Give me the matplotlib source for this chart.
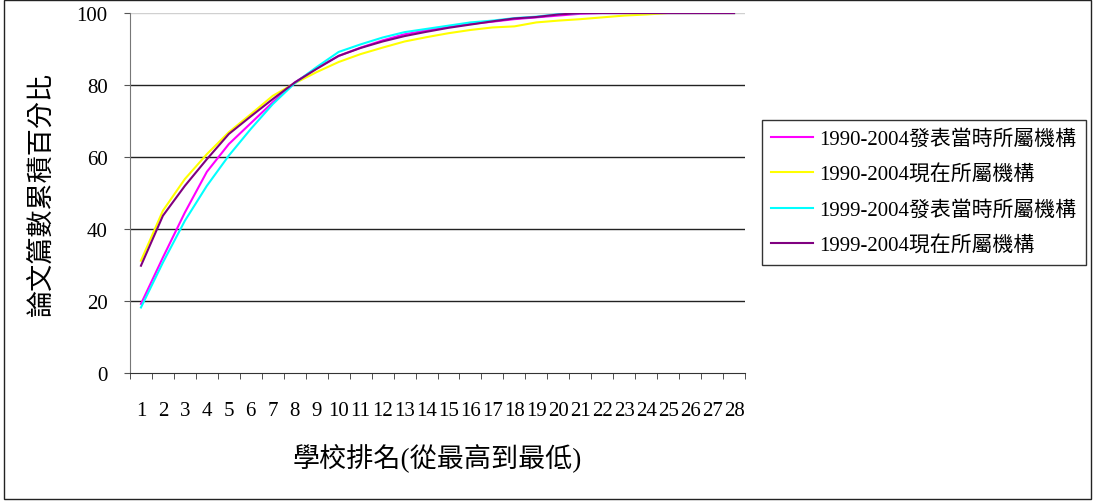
#累積百分比折線圖
import matplotlib.pyplot as plt
from matplotlib.patches import Rectangle

plt.rcParams['font.family'] = ['Liberation Serif', 'Noto Sans CJK TC']

#學校排名 1..28
ranks = list(range(1, 29))

#各系列的累積百分比
p1990_then = [19.2, 32.1, 44.6, 55.9, 63.6, 69.4, 75.2, 80.7, 84.7, 88.1,
              90.4, 92.4, 94.1, 95.2, 96.2, 97.0, 97.6, 98.3, 98.8, 99.3,
              99.8, 100, 100, 100, 100, 100, 100, 100]
p1990_now = [31.2, 45.1, 53.9, 60.8, 66.9, 71.9, 77.0, 80.5, 83.6, 86.4,
             88.6, 90.4, 92.1, 93.3, 94.4, 95.3, 96.0, 96.3, 97.4, 97.9,
             98.3, 98.8, 99.3, 99.6, 100, 100, 100, 100]
p1999_then = [18.2, 30.7, 42.3, 52.0, 60.4, 67.8, 74.7, 80.5, 85.0, 89.2,
              91.3, 93.2, 94.7, 95.6, 96.5, 97.4, 97.9, 98.6, 99.0, 99.7,
              100, 100, 100, 100, 100, 100, 100, 100]
p1999_now = [29.8, 43.7, 52.0, 59.4, 66.4, 71.3, 76.1, 80.7, 84.5, 88.1,
             90.3, 92.1, 93.6, 94.8, 95.9, 96.8, 97.7, 98.5, 98.9, 99.6,
             100, 100, 100, 100, 100, 100, 100, 100]

series_names = ['1990-2004發表當時所屬機構', '1990-2004現在所屬機構',
                '1999-2004發表當時所屬機構', '1999-2004現在所屬機構']
series_values = [p1990_then, p1990_now, p1999_then, p1999_now]
colors = ['#FF00FF', '#FFFF00', '#00FFFF', '#800080']

fig = plt.figure(figsize=(10.95, 5.02), dpi=100)
ax = fig.add_axes([0.1187, 0.255, 0.5617, 0.717])

#格線
for v in [20, 40, 60, 80]:
    ax.axhline(v, color='#222222', linewidth=1, zorder=1)
ax.axhline(100, color='#d0d0d0', linewidth=1, zorder=1)

for name, vals, c in zip(series_names, series_values, colors):
    ax.plot(ranks, vals, color=c, linewidth=1.5, label=name, zorder=3)

ax.set_xlim(0.5, 28.5)
ax.set_ylim(0, 100)

ax.set_xticks(ranks)
ax.set_xticklabels([str(r) for r in ranks])
ax.set_xticks([r + 0.5 for r in range(0, 29)], minor=True)
ax.tick_params(axis='x', which='major', length=0, pad=20, labelsize=15)
ax.tick_params(axis='x', which='minor', length=4, direction='out', color='#333333')
ax.set_yticks([0, 20, 40, 60, 80, 100])
ax.tick_params(axis='y', length=4, direction='out', pad=12, labelsize=15, color='#555555')

for s in ['top', 'right']:
    ax.spines[s].set_visible(False)
ax.spines['left'].set_color('#777777')
ax.spines['bottom'].set_color('#333333')

ax.set_xlabel('學校排名(從最高到最低)', fontsize=19.5, labelpad=16)
ax.set_ylabel('論文篇數累積百分比', fontsize=19.5, labelpad=16)

leg = fig.legend(loc='center left', bbox_to_anchor=(0.696, 0.615), fontsize=15,
                 frameon=True, fancybox=False, edgecolor='black', handlelength=2.0,
                 handletextpad=0.3, borderpad=0.45, labelspacing=0.75, borderaxespad=0)
leg.get_frame().set_linewidth(1)

#外框
fig.patches.append(Rectangle((0.004, 0.004), 0.992, 0.994, transform=fig.transFigure,
                             fill=False, edgecolor='#222222', linewidth=1))

fig.savefig('out.png', dpi=100)
